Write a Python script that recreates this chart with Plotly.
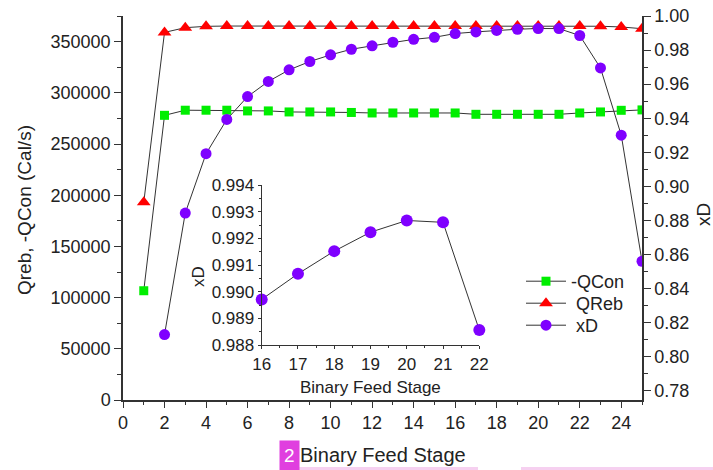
import plotly.graph_objects as go

# ---- data ----
stages = list(range(1, 26))
qcon = [106700, 278000, 283000, 283000, 283000, 282300, 282300, 281300, 281300, 281300,
        280800, 280300, 280300, 280300, 280300, 280300, 279000, 279000, 279000, 279000,
        279000, 280300, 281300, 282900, 283300]
qreb = [193000, 359000, 363600, 364900, 365200, 365200, 365200, 365200, 365200, 365200,
        365200, 365200, 365200, 365200, 365200, 365200, 365200, 365200, 365200, 365200,
        365200, 365200, 365000, 364300, 362600]
xd_stages = list(range(2, 26))
xd = [0.8131, 0.8844, 0.9192, 0.9393, 0.9527, 0.9616, 0.9684, 0.9733, 0.9772, 0.9805,
      0.9825, 0.9846, 0.9863, 0.9875, 0.98971, 0.99067, 0.99152, 0.99223, 0.99267, 0.99260,
      0.98856, 0.9695, 0.9301, 0.8561]
inset_stages = [s for s in xd_stages if 16 <= s <= 22]
inset_xd = [v for s, v in zip(xd_stages, xd) if 16 <= s <= 22]

FONT = "Liberation Sans, Arial, sans-serif"
TXT = "#222222"
AX = "#333333"
LINE = dict(color="#333333", width=1)

fig = go.Figure()
fig.add_trace(go.Scatter(x=stages, y=qcon, name="-QCon", mode="lines+markers",
                         line=LINE, marker=dict(symbol="square", size=9, color="#00ee00"),
                         xaxis="x", yaxis="y", legend="legend"))
fig.add_trace(go.Scatter(x=stages, y=qreb, name="\u00a0QReb", mode="lines+markers",
                         line=LINE, marker=dict(symbol="triangle-up", size=12, color="#ff0000"),
                         xaxis="x", yaxis="y", legend="legend2"))
fig.add_trace(go.Scatter(x=xd_stages, y=xd, name="\u00a0xD", mode="lines+markers",
                         line=LINE, marker=dict(symbol="circle", size=11, color="#7f00ff"),
                         xaxis="x", yaxis="y2", legend="legend3"))
fig.add_trace(go.Scatter(x=inset_stages, y=inset_xd, mode="lines+markers", showlegend=False,
                         line=LINE, marker=dict(symbol="circle", size=12, color="#7f00ff"),
                         xaxis="x4", yaxis="y4", cliponaxis=False))

L, R, T, B = 123, 71, 16, 70
W, H = 713, 470
pw = W - L - R
ph = H - T - B

def px(xp):
    return (xp - L) / pw

def py(yp):
    return (H - B - yp) / ph

common = dict(showgrid=False, zeroline=False, showline=True, linecolor=AX, linewidth=1.5,
              tickcolor=AX, automargin=False,
              tickfont=dict(family=FONT, size=18, color=TXT))

def leg(top):
    return dict(x=px(521), y=py(top), xanchor="left", yanchor="top",
                bgcolor="rgba(0,0,0,0)", font=dict(family=FONT, size=18, color=TXT),
                itemwidth=40, tracegroupgap=0)

fig.update_layout(
    width=W, height=H,
    margin=dict(l=L, r=R, t=T, b=B, autoexpand=False),
    paper_bgcolor="white", plot_bgcolor="white",
    font=dict(family=FONT, color=TXT),
    showlegend=True,
    legend=leg(263), legend2=leg(285), legend3=leg(307),
    xaxis=dict(range=[0, 25], dtick=2, tick0=0, ticks="outside", ticklen=6, tickwidth=1.2,
               minor=dict(dtick=1, ticks="outside", ticklen=3, tickcolor=AX),
               anchor="y", **common),
    xaxis3=dict(range=[0, 25], overlaying="x", side="top", anchor="y", dtick=1,
                ticks="inside", ticklen=4, showticklabels=False, showgrid=False,
                zeroline=False, showline=True, linecolor=AX, linewidth=1.5, tickcolor=AX,
                automargin=False),
    yaxis=dict(range=[0, 375000], dtick=50000, tickformat="d", ticks="outside", ticklen=7,
               tickwidth=1.2,
               minor=dict(dtick=25000, ticks="outside", ticklen=4, tickcolor=AX),
               anchor="x", **common),
    yaxis2=dict(range=[0.7747, 1.0], dtick=0.02, tick0=0.78, tickformat=".2f",
                overlaying="y", side="right", anchor="x",
                ticks="outside", ticklen=7, tickwidth=1.2,
                minor=dict(dtick=0.01, ticks="outside", ticklen=4, tickcolor=AX),
                **common),
    xaxis4=dict(domain=[px(261.7), px(479.3)], range=[16, 22], dtick=1, anchor="y4",
                ticks="outside", ticklen=3, tickwidth=1, automargin=False,
                minor=dict(dtick=0.5, ticks="outside", ticklen=2, tickcolor=AX),
                showgrid=False, zeroline=False, showline=True, linecolor=AX, linewidth=1.2,
                tickcolor=AX, tickfont=dict(family=FONT, size=17, color=TXT)),
    yaxis4=dict(domain=[py(345), py(185)], range=[0.988, 0.994], dtick=0.001,
                tickformat=".3f", anchor="x4", automargin=False,
                ticks="outside", ticklen=3, tickwidth=1,
                minor=dict(dtick=0.0005, ticks="outside", ticklen=2, tickcolor=AX),
                showgrid=False, zeroline=False, showline=True, linecolor=AX, linewidth=1.2,
                tickcolor=AX, tickfont=dict(family=FONT, size=17, color=TXT)),
)

ann = [
    dict(text="Qreb, -QCon (Cal/s)", x=px(25), y=py(210), textangle=-90,
         font=dict(size=19)),
    dict(text="xD", x=px(703), y=py(215), textangle=-90, font=dict(size=19)),
    dict(text="Binary Feed Stage", x=px(383), y=py(455), font=dict(size=20)),
    dict(text="2", x=px(289), y=py(455), font=dict(size=19, color="white"),
         bgcolor="#e03fdf", borderpad=4),
    dict(text="xD", x=px(198), y=py(277), textangle=-90, font=dict(size=17)),
    dict(text="Binary Feed Stage", x=px(370.5), y=py(387), font=dict(size=17)),
]
for a in ann:
    a.update(xref="paper", yref="paper", showarrow=False, xanchor="center", yanchor="middle")
    a["font"] = dict(family=FONT, color=a["font"].get("color", TXT), size=a["font"]["size"])
    fig.add_annotation(**a)

for x0, x1 in [(280, 478), (521, 713)]:
    fig.add_shape(type="line", xref="paper", yref="paper", x0=px(x0), x1=px(x1),
                  y0=py(468.5), y1=py(468.5), line=dict(color="#f6d0f0", width=3))

fig.write_html("out.html", post_script="document.body.style.margin='0';",
               config={"displayModeBar": False})
